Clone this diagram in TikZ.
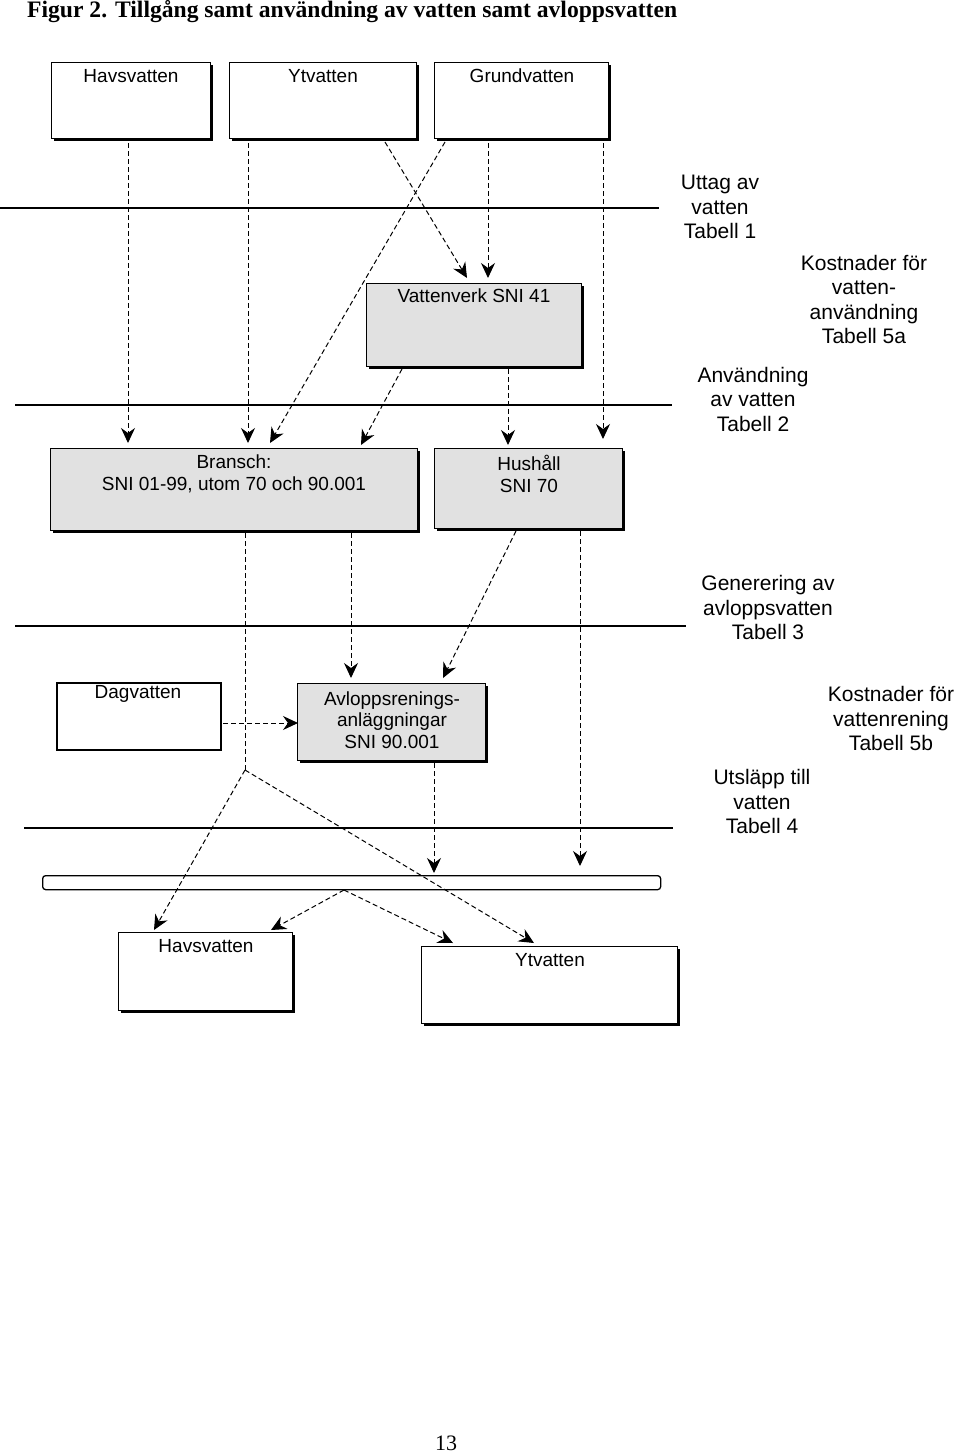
\documentclass[tikz,border=0pt]{standalone}
\usepackage{fontspec}
\setmainfont{Liberation Sans}
\newfontfamily\titlefont{Liberation Serif}
\newfontfamily\numfont{Liberation Serif}
\usetikzlibrary{arrows.meta,shadows}
\definecolor{boxgray}{HTML}{E1E1E1}
\begin{document}
\begin{tikzpicture}[x=1pt,y=-1pt,
  box/.style={draw=black, line width=1.4pt, inner sep=0pt, anchor=north west,
    drop shadow={shadow xshift=2.5pt, shadow yshift=-2.5pt, opacity=1, fill=black}, fill=white},
  graybox/.style={box, fill=boxgray},
  plainbox/.style={draw=black, line width=1.6pt, inner sep=0pt, anchor=north west, fill=white},
  btxt/.style={inner sep=0pt, align=center, font=\fontsize{19}{21.5}\selectfont},
  rtxt/.style={inner sep=0pt, align=center, font=\fontsize{21}{24.5}\selectfont},
  flow/.style={line width=1pt, dash pattern=on 5pt off 3pt,
    -{Stealth[length=15pt,width=14pt,inset=5pt]}},
  flowplain/.style={line width=1pt, dash pattern=on 5pt off 3pt},
  level/.style={line width=1.4pt}
]
\useasboundingbox (0,0) rectangle (960,1453);

% title and page number
\node[inner sep=0pt, anchor=base west, font=\titlefont\bfseries\fontsize{23.6}{26}\selectfont] (title) at (27,18) {Figur 2. Tillgång samt användning av vatten samt avloppsvatten};
\node[inner sep=0pt, anchor=base, font=\numfont\fontsize{22}{24}\selectfont] (pnum) at (446,1450) {13};

% horizontal level lines
\coordinate (l1a) at (0,208);   \coordinate (l1b) at (659,208);
\coordinate (l2a) at (15,405);  \coordinate (l2b) at (672,405);
\coordinate (l3a) at (15,626);  \coordinate (l3b) at (686,626);
\coordinate (l4a) at (24,828);  \coordinate (l4b) at (673,828);
\draw[level] (l1a) -- (l1b);
\draw[level] (l2a) -- (l2b);
\draw[level] (l3a) -- (l3b);
\draw[level] (l4a) -- (l4b);

% boxes
\node[box, minimum width=159pt, minimum height=76pt] (hav1) at (51,62) {};
\node[box, minimum width=187pt, minimum height=76pt] (yt1) at (229,62) {};
\node[box, minimum width=174pt, minimum height=76pt] (gr1) at (434,62) {};
\node[graybox, minimum width=215pt, minimum height=83pt] (vv) at (366,283) {};
\node[graybox, minimum width=367pt, minimum height=82pt] (br) at (50,448) {};
\node[graybox, minimum width=188pt, minimum height=80pt] (hu) at (434,448) {};
\node[plainbox, minimum width=164pt, minimum height=67pt] (dag) at (56,682) {};
\node[graybox, minimum width=188pt, minimum height=77pt] (avl) at (297,683) {};
\node[draw=black, line width=1.3pt, rounded corners=3pt, inner sep=0pt, anchor=north west,
      minimum width=618pt, minimum height=14pt, fill=white] (bar) at (42,875) {};
\node[box, minimum width=174pt, minimum height=78pt] (hav2) at (118,932) {};
\node[box, minimum width=256pt, minimum height=77pt] (yt2) at (421,946) {};

% box texts
\node[btxt] (hav1t) at (131,76) {Havsvatten};
\node[btxt] (yt1t) at (323,76) {Ytvatten};
\node[btxt] (gr1t) at (522,76) {Grundvatten};
\node[btxt] (vvt) at (474,296) {Vattenverk SNI 41};
\node[btxt] (brt) at (234,474) {Bransch:\\SNI 01-99, utom 70 och 90.001};
\node[btxt] (hut) at (529,474) {Hushåll\\SNI 70};
\node[btxt] (dagt) at (138,694) {Dagvatten};
\node[btxt] (avlt) at (392,720) {Avloppsrenings-\\anläggningar\\SNI 90.001};
\node[btxt] (hav2t) at (206,946) {Havsvatten};
\node[btxt] (yt2t) at (550,960) {Ytvatten};

% right-hand labels
\node[rtxt] (uttag) at (720,207) {Uttag av\\vatten\\Tabell 1};
\node[rtxt] (kost5a) at (864,299.5) {Kostnader för\\vatten-\\användning\\Tabell 5a};
\node[rtxt] (anv) at (753,399) {Användning\\av vatten\\Tabell 2};
\node[rtxt] (gen) at (768,607.5) {Generering av\\avloppsvatten\\Tabell 3};
\node[rtxt] (kost5b) at (891,718.5) {Kostnader för\\vattenrening\\Tabell 5b};
\node[rtxt] (utsl) at (762,801.5) {Utsläpp till\\vatten\\Tabell 4};

% connector coordinates
\coordinate (s1) at (128,143);  \coordinate (e1) at (128,443);
\coordinate (s2) at (248,143);  \coordinate (e2) at (248,443);
\coordinate (s3) at (385,142);  \coordinate (e3) at (467,278);
\coordinate (s4) at (445,142);  \coordinate (e4) at (270,443);
\coordinate (s5) at (488,143);  \coordinate (e5) at (488,278);
\coordinate (s6) at (603,143);  \coordinate (e6) at (603,439);
\coordinate (s7) at (402,369);  \coordinate (e7) at (361,445);
\coordinate (s8) at (508,369);  \coordinate (e8) at (508,445);
\coordinate (s9) at (245,533);  \coordinate (split1) at (245,770);
\coordinate (e9a) at (154,930); \coordinate (e9b) at (534,943);
\coordinate (s10) at (351,533); \coordinate (e10) at (351,678);
\coordinate (s11) at (516,531); \coordinate (e11) at (443,678);
\coordinate (s12) at (580,531); \coordinate (e12) at (580,866);
\coordinate (s13) at (223,723); \coordinate (e13) at (298,723);
\coordinate (s14) at (434,763); \coordinate (e14) at (434,873);
\coordinate (split2) at (344,890);
\coordinate (e15a) at (271,930); \coordinate (e15b) at (453,943);

% connectors
\draw[flow] (s1) -- (e1);
\draw[flow] (s2) -- (e2);
\draw[flow] (s3) -- (e3);
\draw[flow] (s4) -- (e4);
\draw[flow] (s5) -- (e5);
\draw[flow] (s6) -- (e6);
\draw[flow] (s7) -- (e7);
\draw[flow] (s8) -- (e8);
\draw[flowplain] (s9) -- (split1);
\draw[flow] (split1) -- (e9a);
\draw[flow] (split1) -- (e9b);
\draw[flow] (s10) -- (e10);
\draw[flow] (s11) -- (e11);
\draw[flow] (s12) -- (e12);
\draw[flow] (s13) -- (e13);
\draw[flow] (s14) -- (e14);
\draw[flow] (split2) -- (e15a);
\draw[flow] (split2) -- (e15b);
\end{tikzpicture}
\end{document}
